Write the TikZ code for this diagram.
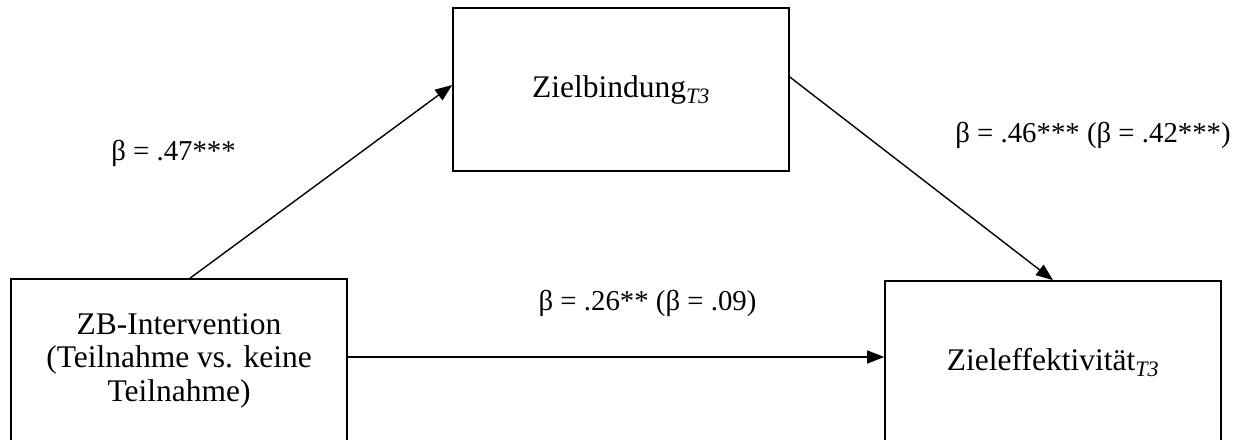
\documentclass[tikz,border=0pt]{standalone}
\usepackage{fontspec}
\setmainfont{Liberation Serif}
\usetikzlibrary{arrows.meta}
\begin{document}
\begin{tikzpicture}[x=1pt,y=1pt,
  box/.style={draw,line width=1.6pt,minimum width=336pt,minimum height=163pt,inner sep=0pt,align=center,font=\fontsize{31.5}{33.5}\selectfont},
  conn/.style={line width=1.4pt,-{Triangle[length=17pt,width=13pt]}},
  lab/.style={anchor=base,inner sep=0pt,font=\fontsize{28.8}{33}\selectfont}]
\useasboundingbox (0,0) rectangle (1242,-439);
\node[box] (lb) at (179,-360.5) {ZB-Intervention\\(Teilnahme vs. keine\\Teilnahme)};
\node[box] (tb) at (621,-89.5) {Zielbindung\textsubscript{\textit{T3}}};
\node[box] (rb) at (1053,-362.5) {Zieleffektivität\textsubscript{\textit{T3}}};
\draw[conn] ([xshift=11pt]lb.north) -- ([yshift=4.5pt]tb.west);
\draw[conn] ([yshift=12.5pt]tb.east) -- (rb.north);
\draw[conn] ([yshift=3.5pt]lb.east) -- ([yshift=3.5pt]lb.east -| rb.west);
\node[lab] (l1) at (173.5,-160) {β = .47***};
\node[lab] (l2) at (1093,-142) {β = .46*** (β = .42***)};
\node[lab] (l3) at (647.5,-310) {β = .26** (β = .09)};
\end{tikzpicture}
\end{document}
